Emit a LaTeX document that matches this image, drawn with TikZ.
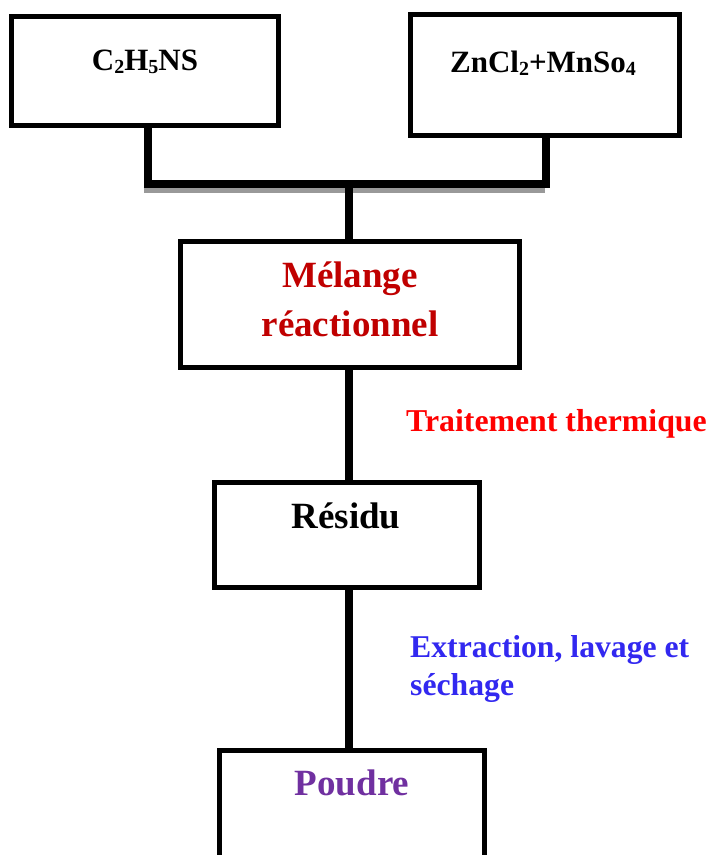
\documentclass[tikz,border=0pt]{standalone}
\usepackage{fontspec}
\setmainfont{Liberation Serif}
\definecolor{melred}{RGB}{192,0,0}
\definecolor{trred}{RGB}{255,0,0}
\definecolor{exblue}{RGB}{50,40,240}
\definecolor{poupurple}{RGB}{112,48,160}
\newcommand{\mysub}[1]{\raisebox{-3pt}{\fontsize{20}{20}\selectfont #1}}
\begin{document}
\begin{tikzpicture}[x=1pt,y=-1pt,
  box/.style={draw=black, line width=5pt, inner sep=0pt, outer sep=0pt},
  conn/.style={draw=black, line width=8pt, line join=miter},
  shadowline/.style={draw=black!40, line width=6pt},
  lbl/.style={inner sep=0pt, font=\bfseries\fontsize{#1}{#1}\selectfont},
  lbl/.default=37]
\useasboundingbox (0,0) rectangle (713,855);
\clip (0,0) rectangle (713,855);
\fill[white] (0,0) rectangle (713,855);

% boxes
\node[box, minimum width=267pt, minimum height=109pt] (b1) at (145,71) {};
\node[box, minimum width=269pt, minimum height=121pt] (b2) at (545,75) {};
\node[box, minimum width=339pt, minimum height=126pt] (mel) at (350,304.5) {};
\node[box, minimum width=265pt, minimum height=105pt] (res) at (347,535) {};
\node[box, minimum width=265pt, minimum height=150pt] (pou) at (352,825) {};

% junction coordinates
\coordinate (j1) at (147.5,183.5);
\coordinate (j2) at (545.5,183.5);
\coordinate (jm) at (349,183.5);

% shadow of the collecting line
\draw[shadowline] ([shift={(-4,6)}]j1) -- ([shift={(-1,6)}]j2);

% connectors
\draw[conn] (b1.south -| j1) -- (j1) -- (j2) -- (b2.south -| j2);
\draw[conn] (jm) -- (mel.north -| jm);
\draw[conn] (mel.south -| jm) -- (res.north -| jm);
\draw[conn] (res.south -| jm) -- (pou.north -| jm);

% redraw box borders on top
\draw[line width=5pt] (b1.south west) rectangle (b1.north east);
\draw[line width=5pt] (b2.south west) rectangle (b2.north east);
\draw[line width=5pt] (mel.south west) rectangle (mel.north east);
\draw[line width=5pt] (res.south west) rectangle (res.north east);
\draw[line width=5pt] (pou.south west) rectangle (pou.north east);

% texts
\node[lbl=31, anchor=base] (t1) at (145,70) {C\mysub{2}H\mysub{5}NS};
\node[lbl=31, anchor=base] (t2) at (543,72) {ZnCl\mysub{2}+MnSo\mysub{4}};
\node[lbl, anchor=base, text=melred] (t3a) at (350,287) {Mélange};
\node[lbl, anchor=base, text=melred] (t3b) at (350,336) {réactionnel};
\node[lbl, anchor=base] (t4) at (346,528) {Résidu};
\node[lbl, anchor=base, text=poupurple] (t5) at (352,795) {Poudre};
\node[lbl=31.8, anchor=base west, text=trred] (t6) at (406,431) {Traitement thermique};
\node[lbl=31.7, anchor=base west, text=exblue] (t7) at (410,657) {Extraction, lavage et};
\node[lbl=31.7, anchor=base west, text=exblue] (t8) at (410,695) {séchage};
\end{tikzpicture}
\end{document}
